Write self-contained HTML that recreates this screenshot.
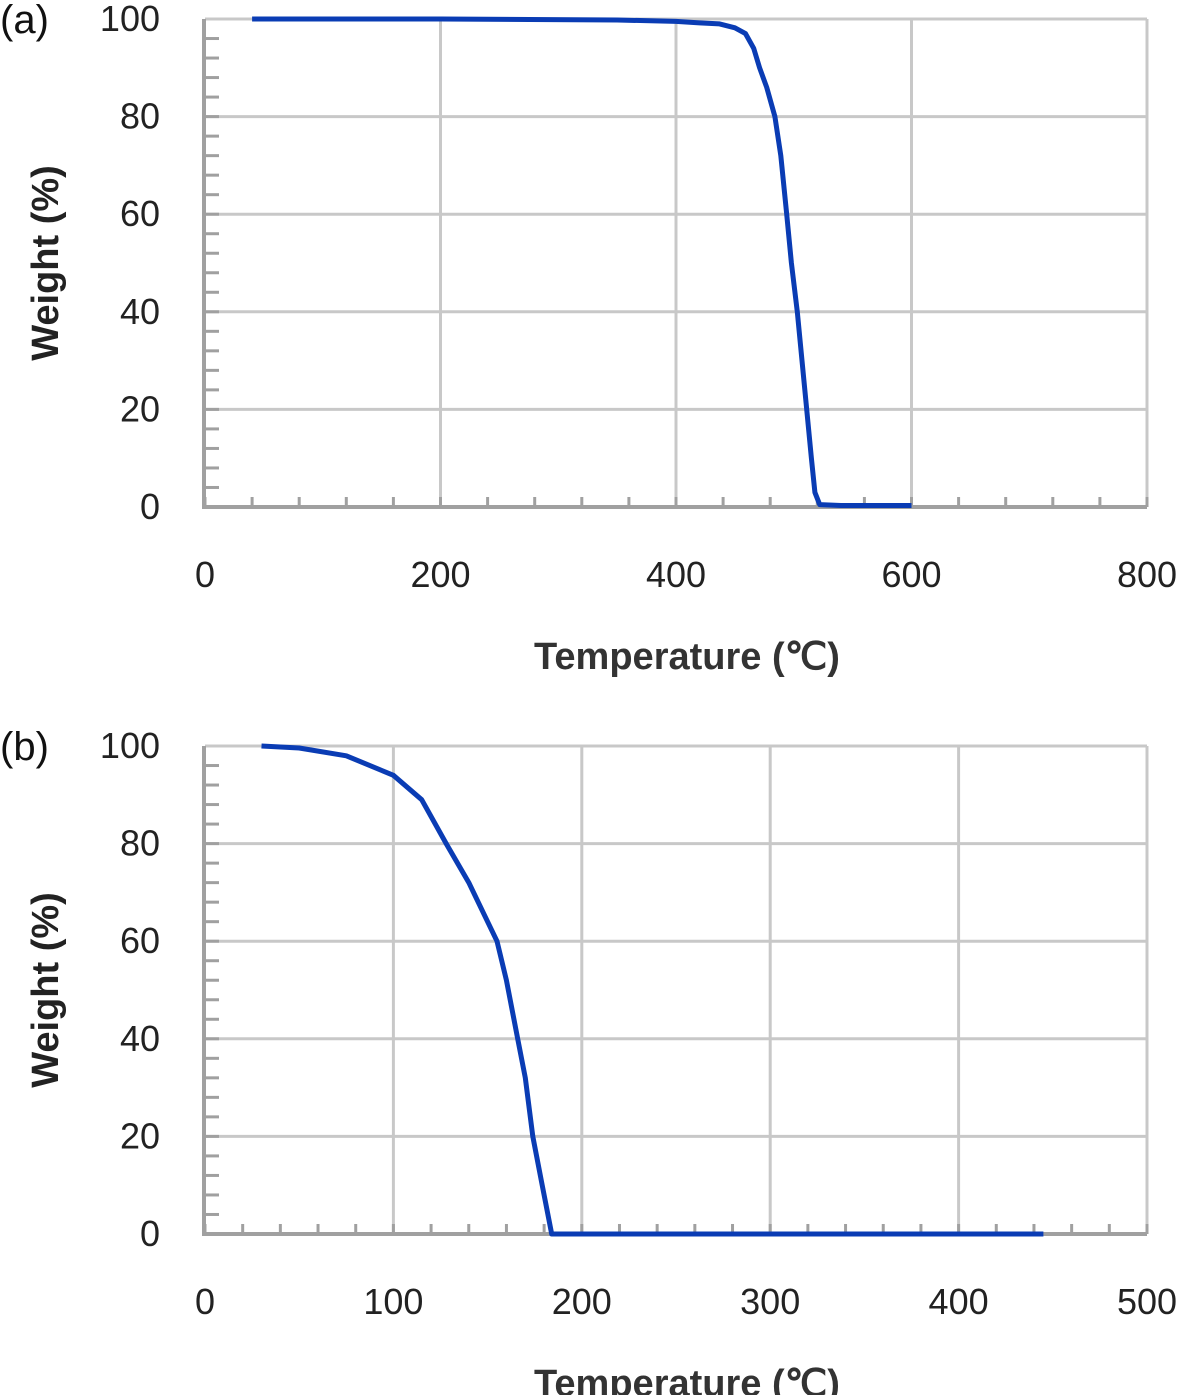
<!DOCTYPE html>
<html><head><meta charset="utf-8"><style>
html,body{margin:0;padding:0;background:#fff;}
svg{display:block;font-family:"Liberation Sans",sans-serif;}
</style></head><body>
<svg id="s" width="1187" height="1395" viewBox="0 0 1187 1395"></svg>
<script>
const aTemps=[40,200,350,400,420,437,450,459,466,471,477,484,489,494,498,503,507,511,515,518,522,540,600];
const aWeights=[100,100,99.8,99.5,99.2,99,98.2,97,94,90,86,80,72,60,50,40,30,20,10,3,0.5,0.3,0.3];
const bTemps=[30,50,75,100,115,128,140,150,155,160,166,170,174,179,184,200,300,445];
const bWeights=[100,99.6,98,94,89,80,72,64,60,52,40,32,20,10,0,0,0,0];
const aXTicks=[0,200,400,600,800];
const bXTicks=[0,100,200,300,400,500];
const yTicks=[0,20,40,60,80,100];
const NS="http://www.w3.org/2000/svg";
const svg=document.getElementById('s');
function el(t,a,p){const e=document.createElementNS(NS,t);for(const k in a)e.setAttribute(k,a[k]);(p||svg).appendChild(e);return e;}
function panel(cfg){
  const g=el('g',{});
  
  
  const L=205,R=1147,T=cfg.top,B=cfg.top+488;
  const xs=v=>L+(v-cfg.xmin)/(cfg.xmax-cfg.xmin)*(R-L);
  const ys=v=>B-v/100*(B-T);
  // grid
  yTicks.forEach(v=>{if(v>0){const l=el('line',{x1:L,x2:R,y1:ys(v),y2:ys(v),stroke:'#c8c8c8','stroke-width':3},g);}});
  cfg.xt.forEach(v=>{if(v>cfg.xmin){const l=el('line',{x1:xs(v),x2:xs(v),y1:T,y2:B,stroke:'#c8c8c8','stroke-width':3},g);}});
  // minor ticks
  for(let v=0;v<100;v+=4){const l=el('line',{x1:L,x2:L+14,y1:ys(v),y2:ys(v),stroke:'#a0a0a0','stroke-width':3},g);}
  const step=(cfg.xt[1]-cfg.xt[0])/5;
  for(let v=cfg.xmin;v<=cfg.xmax;v+=step){const l=el('line',{x1:xs(v),x2:xs(v),y1:B,y2:B-10,stroke:'#a0a0a0','stroke-width':3},g);}
  // axes
  const ax=el('path',{d:`M${L-1},${T} L${L-1},${B} L${R},${B}`,fill:'none',stroke:'#a0a0a0','stroke-width':4},g);
  
  // tick labels
  yTicks.forEach(v=>{const t=el('text',{x:160,y:ys(v)+12,'text-anchor':'end','font-size':36,fill:'#222'},g);t.textContent=v;});
  cfg.xt.forEach(v=>{const t=el('text',{x:xs(v),y:B+80,'text-anchor':'middle','font-size':36,fill:'#222'},g);t.textContent=v;});
  // titles
  const xt=el('text',{x:687,y:B+162,'text-anchor':'middle','font-size':38,'font-weight':'bold',fill:'#333'},g);
  xt.textContent='Temperature (℃)';
  const yt=el('text',{x:0,y:0,'text-anchor':'middle','font-size':38,'font-weight':'bold',fill:'#222',transform:`translate(58,${(T+B)/2}) rotate(-90)`},g);
  yt.textContent='Weight (%)';
  const pl=el('text',{x:0,y:T+14,'font-size':40,fill:'#111'},g);
  pl.textContent=cfg.label;
  // curve
  const d=cfg.tx.map((v,i)=>(i?'L':'M')+xs(v).toFixed(1)+','+ys(cfg.wy[i]).toFixed(1)).join(' ');
  const c=el('path',{d:d,fill:'none',stroke:'#0a3cb4','stroke-width':5,'stroke-linejoin':'round'},g);
  
}
panel({name:'panel-a',label:'(a)',top:19,xmin:0,xmax:800,xt:aXTicks,tx:aTemps,wy:aWeights});
panel({name:'panel-b',label:'(b)',top:746,xmin:0,xmax:500,xt:bXTicks,tx:bTemps,wy:bWeights});
</script>
</body></html>
